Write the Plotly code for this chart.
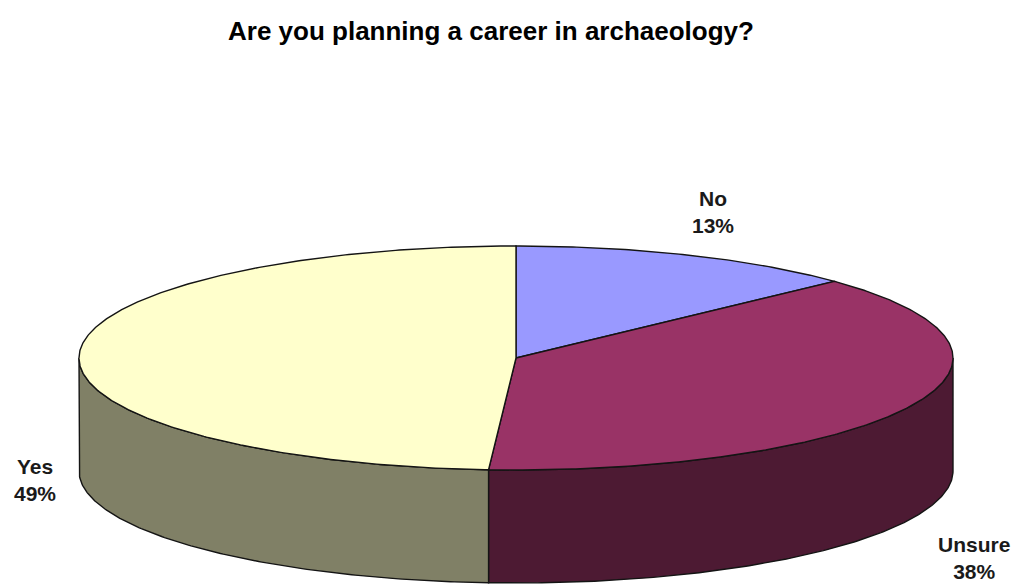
import numpy as np
import plotly.graph_objects as go

# ---- data ----
categories = ["No", "Unsure", "Yes"]
values = [13, 38, 49]
label_text = ["No<br>13%", "Unsure<br>38%", "Yes<br>49%"]
title_text = "Are you planning a career in archaeology?"

# ---- styles ----
top_colors = {"No": "#9999FF", "Unsure": "#993366", "Yes": "#FFFFCC"}
side_colors = {"No": "#4D4D80", "Unsure": "#4D1A33", "Yes": "#808066"}
edge = "#141414"

W, H = 1017, 588
cx, cy, ra, rb, depth = 516, 358, 437, 112, 113
label_pos = {"No": (713, 212), "Unsure": (974, 558), "Yes": (35, 480)}


def arc(t0, t1, dz=0.0, n=None):
    if n is None:
        n = max(int(abs(t1 - t0) * 2) + 2, 3)
    t = np.radians(np.linspace(t0, t1, n))
    return cx + ra * np.sin(t), cy - rb * np.cos(t) + dz


fig = go.Figure()

total = float(sum(values))
angles = np.concatenate([[0.0], np.cumsum(values) / total * 360.0])

# side walls (front half only: 90..270 deg, clockwise from top)
for i, cat in enumerate(categories):
    s, e = max(angles[i], 90.0), min(angles[i + 1], 270.0)
    if e <= s:
        continue
    xt, yt = arc(s, e)
    xb, yb = arc(e, s, depth)
    xs = np.concatenate([xt, xb, xt[:1]])
    ys = np.concatenate([yt, yb, yt[:1]])
    fig.add_trace(go.Scatter(x=xs, y=ys, mode="lines", fill="toself",
                             fillcolor=side_colors[cat],
                             line=dict(color=edge, width=1.4),
                             hoverinfo="skip", showlegend=False))

# top faces
for i, cat in enumerate(categories):
    xt, yt = arc(angles[i], angles[i + 1])
    xs = np.concatenate([[cx], xt, [cx]])
    ys = np.concatenate([[cy], yt, [cy]])
    fig.add_trace(go.Scatter(x=xs, y=ys, mode="lines", fill="toself",
                             fillcolor=top_colors[cat],
                             line=dict(color=edge, width=1.4),
                             hoverinfo="skip", showlegend=False))

annotations = []
for cat, txt in zip(categories, label_text):
    x, y = label_pos[cat]
    annotations.append(dict(x=x, y=y, xref="x", yref="y", text="<b>" + txt + "</b>",
                            showarrow=False, align="center",
                            font=dict(family="Arial, Liberation Sans", size=21, color="#1a1a1a")))
annotations.append(dict(x=491, y=31, xref="x", yref="y", text="<b>" + title_text + "</b>",
                        showarrow=False, xanchor="center", yanchor="middle",
                        font=dict(family="Arial, Liberation Sans", size=26, color="#000000")))

fig.update_layout(
    width=W, height=H,
    margin=dict(l=0, r=0, t=0, b=0),
    paper_bgcolor="white", plot_bgcolor="white",
    xaxis=dict(range=[0, W], visible=False, fixedrange=True),
    yaxis=dict(range=[H, 0], visible=False, fixedrange=True),
    annotations=annotations,
    showlegend=False,
)

fig.write_html("out.html")
